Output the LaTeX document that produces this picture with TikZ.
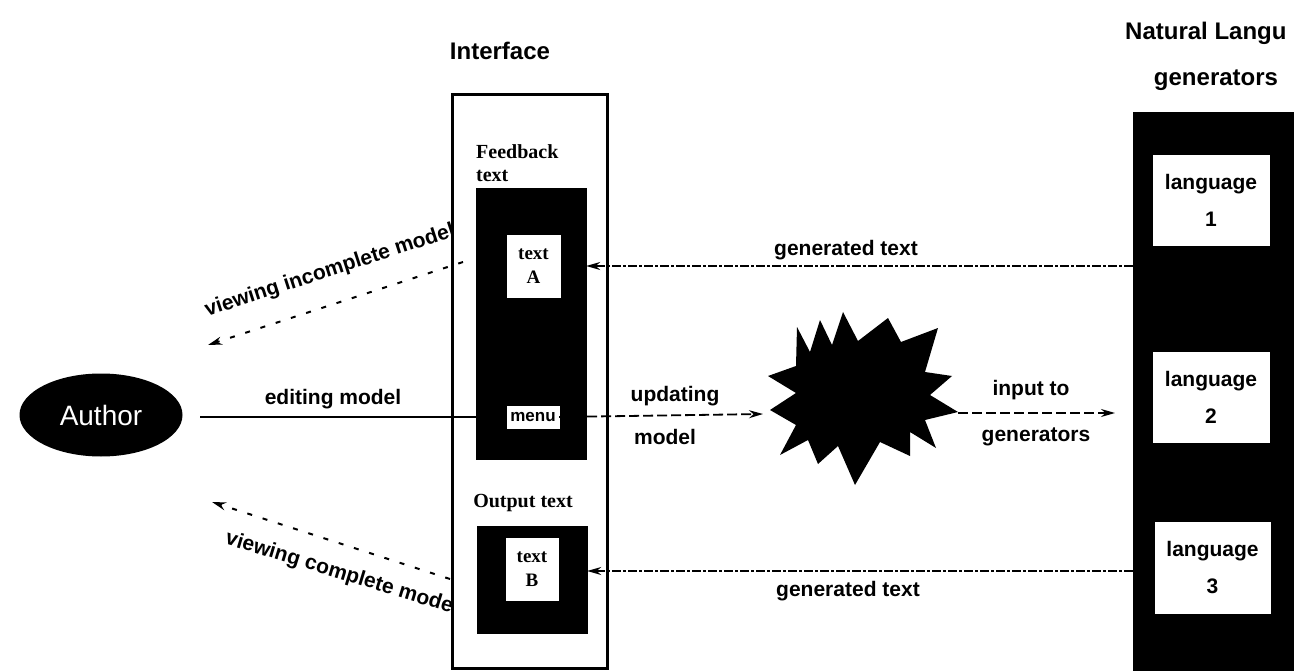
\documentclass[tikz,border=0pt]{standalone}
\usepackage{fontspec}
\setmainfont{Liberation Sans}
\newfontfamily\serifb{Liberation Serif}
\usetikzlibrary{arrows.meta,shapes.geometric}
\begin{document}
\begin{tikzpicture}[x=1pt,y=-1pt,
  lbl/.style={font=\fontsize{21}{24}\selectfont\bfseries, inner sep=0pt},
  tlbl/.style={font=\fontsize{24}{27}\selectfont\bfseries, inner sep=0pt},
  slbl/.style={font=\serifb\fontsize{20}{23}\selectfont\bfseries, inner sep=0pt},
  blackbox/.style={fill=black, draw=black, inner sep=0pt},
  whitebox/.style={fill=white, draw=white, inner sep=0pt, align=center},
  langbox/.style={whitebox, font=\fontsize{21}{37}\selectfont\bfseries},
  tbox/.style={whitebox, minimum width=53pt, minimum height=62pt, font=\serifb\fontsize{19}{24}\selectfont\bfseries},
  frame/.style={draw=black, line width=3pt, inner sep=0pt},
  tipL/.style={-{Stealth[length=14pt,width=8pt]}},
  gentext/.style={tipL, line width=1.6pt, dash pattern=on 9pt off 2pt on 3pt off 2pt},
  viewline/.style={tipL, line width=2pt, dash pattern=on 5pt off 11pt},
  updline/.style={tipL, line width=1.8pt, dash pattern=on 10pt off 4pt},
]
\useasboundingbox (0,0) rectangle (1294,671);

% Author
\node[ellipse, fill=black, minimum width=163pt, minimum height=83pt, inner sep=0pt,
      text=white, font=\fontsize{28}{30}\selectfont] (author) at (101,415) {Author};

% Interface
\node[tlbl] (ititle) at (500,51) {Interface};
\node[frame, minimum width=155pt, minimum height=573pt] (ibox) at (529.5,381.5) {};
\node[slbl, align=left, anchor=north west, font=\serifb\fontsize{20}{23}\selectfont\bfseries] (fblabel) at (476,144) {Feedback\\text};
\node[blackbox, minimum width=110pt, minimum height=271pt] (fb) at (531,323.5) {};
\node[tbox] (textA) at (533.5,266) {text\\A};
\node[whitebox, minimum width=52pt, minimum height=22pt, font=\fontsize{17}{18}\selectfont\bfseries] (menu) at (533,417) {menu};
\node[slbl] (outlabel) at (523,503) {Output text};
\node[blackbox, minimum width=110pt, minimum height=107pt] (outbox) at (532,579.5) {};
\node[tbox, minimum width=52pt] (textB) at (532,569) {text\\B};

% Natural language generators
\node[tlbl, anchor=west] (nltitle) at (1125,33) {Natural Langu};
\node[tlbl] (nltitle2) at (1216,80) {generators};
\node[blackbox, minimum width=161pt, minimum height=560pt] (gen) at (1213.5,392) {};
\node[langbox, minimum width=116pt, minimum height=90pt] (lang1) at (1211,200) {language\\1};
\node[langbox, minimum width=116pt, minimum height=90pt] (lang2) at (1211,397) {language\\2};
\node[langbox, minimum width=115pt, minimum height=91pt] (lang3) at (1212.5,567.5) {language\\3};

% Star (explosion)
\fill[black] (797,327) -- (810,352) -- (820,320) -- (832,345) -- (843,312) -- (858,341)
  -- (888,318) -- (901,342) -- (938,328) -- (925,372) -- (952,376) -- (930,395)
  -- (958,412) -- (925,420) -- (936,448) -- (910,432) -- (910,456) -- (880,442)
  -- (855,485) -- (838,446) -- (818,464) -- (808,440) -- (780,455) -- (796,425)
  -- (770,410) -- (796,393) -- (768,376) -- (796,366) -- cycle;
\coordinate (starW) at (763,414);
\coordinate (starE) at (958,413);
\coordinate (inEnd) at (1115,413);

% connectors
\coordinate (edS) at (200,417);
\draw[line width=2.6pt] (edS) -- (menu.west);
\node[lbl] (edlbl) at (333,399) {editing model};

\draw[updline] (menu.east) -- (starW);
\node[lbl] (upd1) at (675,396) {updating};
\node[lbl] (upd2) at (665,437) {model};

\draw[updline] (starE) -- (inEnd);
\node[lbl] (in1) at (1031,390) {input to};
\node[lbl] (in2) at (1036,437) {generators};

\draw[gentext] (gen.west |- textA.center) -- (fb.east |- textA.center);
\node[lbl] (gt1) at (846,250) {generated text};
\draw[gentext] (gen.west |- 0,571) -- (outbox.east |- 0,571);
\node[lbl] (gt2) at (848,591) {generated text};

\coordinate (viS) at (463,262);
\coordinate (viE) at (208,345);
\draw[viewline] (viS) -- (viE);
\coordinate (vcS) at (450,579);
\coordinate (vcE) at (212,502);
\draw[viewline] (vcS) -- (vcE);
\begin{scope}
\clip (0,0) rectangle (452,671);
\node[lbl, rotate=18] (vilbl) at (330,271) {viewing incomplete model};
\node[lbl, rotate=-17] (vclbl) at (342,574) {viewing complete model};
\end{scope}
\end{tikzpicture}
\end{document}
